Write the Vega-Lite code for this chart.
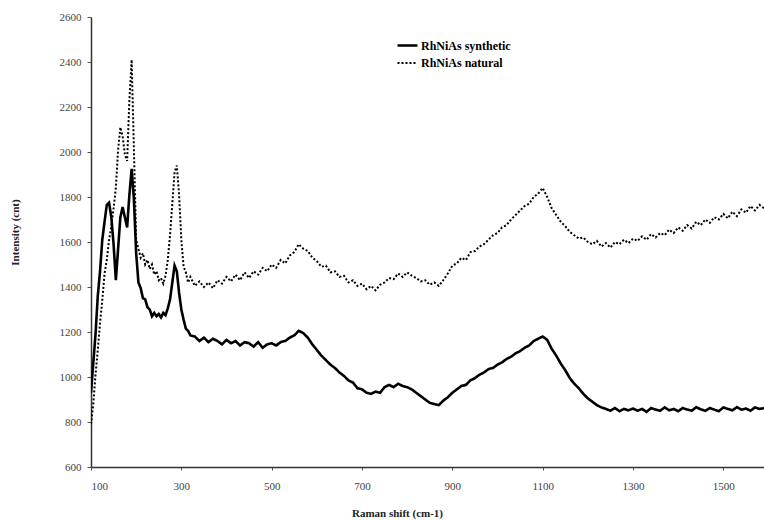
{
  "$schema": "https://vega.github.io/schema/vega-lite/v6.json",
  "width": 673,
  "height": 450,
  "autosize": "none",
  "padding": {"left": 91, "top": 17, "right": 0, "bottom": 53},
  "background": "white",
  "config": {
    "view": {"stroke": null},
    "font": "Liberation Serif"
  },
  "data": {
    "values": [
      {"x":100,"syn":930,"nat":790},{"x":105,"syn":1060,"nat":880},{"x":110,"syn":1190,"nat":1010},{"x":115,"syn":1360,"nat":1120},
      {"x":120,"syn":1470,"nat":1240},{"x":125,"syn":1610,"nat":1340},{"x":130,"syn":1690,"nat":1460},{"x":135,"syn":1765,"nat":1520},
      {"x":140,"syn":1775,"nat":1610},{"x":145,"syn":1710,"nat":1670},{"x":150,"syn":1590,"nat":1750},{"x":155,"syn":1430,"nat":1840},
      {"x":160,"syn":1570,"nat":2010},{"x":165,"syn":1710,"nat":2110},{"x":170,"syn":1755,"nat":2070},{"x":175,"syn":1710,"nat":1990},
      {"x":180,"syn":1665,"nat":1960},{"x":185,"syn":1810,"nat":2230},{"x":190,"syn":1925,"nat":2410},{"x":195,"syn":1790,"nat":2010},
      {"x":200,"syn":1550,"nat":1610},{"x":205,"syn":1420,"nat":1570},{"x":210,"syn":1395,"nat":1530},{"x":215,"syn":1350,"nat":1550},
      {"x":220,"syn":1345,"nat":1500},{"x":225,"syn":1310,"nat":1520},{"x":230,"syn":1300,"nat":1480},{"x":235,"syn":1270,"nat":1500},
      {"x":240,"syn":1285,"nat":1455},{"x":245,"syn":1270,"nat":1470},{"x":250,"syn":1280,"nat":1430},{"x":255,"syn":1265,"nat":1440},
      {"x":260,"syn":1285,"nat":1415},{"x":265,"syn":1275,"nat":1450},{"x":270,"syn":1305,"nat":1520},{"x":275,"syn":1345,"nat":1630},
      {"x":280,"syn":1420,"nat":1770},{"x":285,"syn":1495,"nat":1910},{"x":290,"syn":1470,"nat":1940},{"x":295,"syn":1375,"nat":1810},
      {"x":300,"syn":1300,"nat":1610},{"x":305,"syn":1255,"nat":1490},{"x":310,"syn":1215,"nat":1465},{"x":315,"syn":1205,"nat":1420},
      {"x":320,"syn":1185,"nat":1445},{"x":330,"syn":1180,"nat":1405},{"x":340,"syn":1160,"nat":1425},{"x":350,"syn":1175,"nat":1400},
      {"x":360,"syn":1155,"nat":1420},{"x":370,"syn":1170,"nat":1395},{"x":380,"syn":1160,"nat":1430},{"x":390,"syn":1145,"nat":1415},
      {"x":400,"syn":1165,"nat":1445},{"x":410,"syn":1150,"nat":1425},{"x":420,"syn":1160,"nat":1455},{"x":430,"syn":1140,"nat":1430},
      {"x":440,"syn":1155,"nat":1465},{"x":450,"syn":1150,"nat":1440},{"x":460,"syn":1135,"nat":1470},{"x":470,"syn":1155,"nat":1455},
      {"x":480,"syn":1130,"nat":1485},{"x":490,"syn":1145,"nat":1470},{"x":500,"syn":1150,"nat":1500},{"x":510,"syn":1140,"nat":1485},
      {"x":520,"syn":1155,"nat":1520},{"x":530,"syn":1160,"nat":1505},{"x":540,"syn":1175,"nat":1540},{"x":550,"syn":1185,"nat":1555},
      {"x":560,"syn":1205,"nat":1590},{"x":570,"syn":1195,"nat":1570},{"x":580,"syn":1175,"nat":1560},{"x":590,"syn":1145,"nat":1530},
      {"x":600,"syn":1120,"nat":1515},{"x":610,"syn":1095,"nat":1490},{"x":620,"syn":1075,"nat":1495},{"x":630,"syn":1055,"nat":1465},
      {"x":640,"syn":1040,"nat":1470},{"x":650,"syn":1020,"nat":1445},{"x":660,"syn":1005,"nat":1450},{"x":670,"syn":985,"nat":1420},
      {"x":680,"syn":975,"nat":1430},{"x":690,"syn":950,"nat":1405},{"x":700,"syn":945,"nat":1415},{"x":710,"syn":930,"nat":1390},
      {"x":720,"syn":925,"nat":1405},{"x":730,"syn":935,"nat":1385},{"x":740,"syn":930,"nat":1410},{"x":750,"syn":955,"nat":1420},
      {"x":760,"syn":965,"nat":1440},{"x":770,"syn":955,"nat":1435},{"x":780,"syn":970,"nat":1460},{"x":790,"syn":960,"nat":1445},
      {"x":800,"syn":955,"nat":1465},{"x":810,"syn":945,"nat":1450},{"x":820,"syn":930,"nat":1440},{"x":830,"syn":915,"nat":1425},
      {"x":840,"syn":900,"nat":1430},{"x":850,"syn":885,"nat":1410},{"x":860,"syn":880,"nat":1420},{"x":870,"syn":875,"nat":1405},
      {"x":880,"syn":895,"nat":1430},{"x":890,"syn":910,"nat":1460},{"x":900,"syn":930,"nat":1495},{"x":910,"syn":945,"nat":1505},
      {"x":920,"syn":960,"nat":1530},{"x":930,"syn":965,"nat":1520},{"x":940,"syn":985,"nat":1555},{"x":950,"syn":995,"nat":1560},
      {"x":960,"syn":1010,"nat":1580},{"x":970,"syn":1020,"nat":1590},{"x":980,"syn":1035,"nat":1610},{"x":990,"syn":1040,"nat":1630},
      {"x":1000,"syn":1055,"nat":1640},{"x":1010,"syn":1065,"nat":1665},{"x":1020,"syn":1080,"nat":1675},{"x":1030,"syn":1090,"nat":1700},
      {"x":1040,"syn":1105,"nat":1720},{"x":1050,"syn":1115,"nat":1740},{"x":1060,"syn":1130,"nat":1760},{"x":1070,"syn":1140,"nat":1770},
      {"x":1080,"syn":1160,"nat":1800},{"x":1090,"syn":1170,"nat":1815},{"x":1100,"syn":1180,"nat":1840},{"x":1110,"syn":1165,"nat":1800},
      {"x":1120,"syn":1125,"nat":1750},{"x":1130,"syn":1095,"nat":1720},{"x":1140,"syn":1060,"nat":1690},{"x":1150,"syn":1030,"nat":1670},
      {"x":1160,"syn":995,"nat":1645},{"x":1170,"syn":970,"nat":1630},{"x":1180,"syn":950,"nat":1615},{"x":1190,"syn":925,"nat":1620},
      {"x":1200,"syn":905,"nat":1600},{"x":1210,"syn":890,"nat":1590},{"x":1220,"syn":875,"nat":1605},{"x":1230,"syn":865,"nat":1580},
      {"x":1240,"syn":858,"nat":1595},{"x":1250,"syn":850,"nat":1575},{"x":1260,"syn":862,"nat":1600},{"x":1270,"syn":848,"nat":1590},
      {"x":1280,"syn":858,"nat":1610},{"x":1290,"syn":852,"nat":1595},{"x":1300,"syn":860,"nat":1615},{"x":1310,"syn":850,"nat":1605},
      {"x":1320,"syn":858,"nat":1625},{"x":1330,"syn":845,"nat":1610},{"x":1340,"syn":862,"nat":1635},{"x":1350,"syn":855,"nat":1620},
      {"x":1360,"syn":850,"nat":1640},{"x":1370,"syn":865,"nat":1630},{"x":1380,"syn":852,"nat":1655},{"x":1390,"syn":858,"nat":1640},
      {"x":1400,"syn":848,"nat":1665},{"x":1410,"syn":862,"nat":1650},{"x":1420,"syn":855,"nat":1675},{"x":1430,"syn":850,"nat":1660},
      {"x":1440,"syn":866,"nat":1690},{"x":1450,"syn":856,"nat":1675},{"x":1460,"syn":850,"nat":1700},{"x":1470,"syn":862,"nat":1685},
      {"x":1480,"syn":855,"nat":1710},{"x":1490,"syn":848,"nat":1700},{"x":1500,"syn":865,"nat":1725},{"x":1510,"syn":858,"nat":1705},
      {"x":1520,"syn":852,"nat":1735},{"x":1530,"syn":866,"nat":1715},{"x":1540,"syn":855,"nat":1745},{"x":1550,"syn":860,"nat":1730},
      {"x":1560,"syn":850,"nat":1760},{"x":1570,"syn":865,"nat":1740},{"x":1580,"syn":858,"nat":1765},{"x":1590,"syn":862,"nat":1750}
    ]
  },
  "transform": [{"fold": ["syn", "nat"], "as": ["series", "value"]}],
  "mark": {"type": "line", "color": "black", "clip": true},
  "encoding": {
    "x": {
      "field": "x", "type": "quantitative",
      "scale": {"domain": [100, 1590], "nice": false, "zero": false},
      "axis": {
        "values": [100, 300, 500, 700, 900, 1100, 1300, 1500],
        "format": "d",
        "grid": false,
        "domainColor": "#333", "domainWidth": 1.5,
        "tickColor": "#555", "tickSize": 3,
        "labelFont": "Liberation Serif", "labelFontSize": 11, "labelColor": "#444",
        "labelPadding": 10,
        "title": "Raman shift (cm-1)",
        "titleFont": "Liberation Serif", "titleFontSize": 11, "titleFontWeight": "bold", "titleColor": "#222",
        "titleX": 306, "titleY": 46, "titleAlign": "center", "titleBaseline": "middle"
      }
    },
    "y": {
      "field": "value", "type": "quantitative",
      "scale": {"domain": [600, 2600], "nice": false, "zero": false},
      "axis": {
        "values": [600, 800, 1000, 1200, 1400, 1600, 1800, 2000, 2200, 2400, 2600],
        "format": "d",
        "grid": false,
        "domainColor": "#333", "domainWidth": 1.5,
        "tickColor": "#555", "tickSize": 4,
        "labelFont": "Liberation Serif", "labelFontSize": 11, "labelColor": "#444",
        "labelPadding": 6,
        "title": "Intensity (cnt)",
        "titleFont": "Liberation Serif", "titleFontSize": 11, "titleFontWeight": "bold", "titleColor": "#222",
        "titleX": -76, "titleY": 215, "titleAngle": -90, "titleAlign": "center", "titleBaseline": "middle"
      }
    },
    "detail": {"field": "series"},
    "strokeWidth": {
      "field": "series", "type": "nominal",
      "scale": {"domain": ["syn", "nat"], "range": [2.6, 2]},
      "legend": null
    },
    "strokeDash": {
      "field": "series", "type": "nominal",
      "scale": {"domain": ["syn", "nat"], "range": [[1, 0], [2, 2]]},
      "legend": {
        "title": null,
        "orient": "none", "legendX": 305, "legendY": 17,
        "symbolType": "stroke", "symbolSize": 400, "symbolStrokeWidth": 2, "symbolStrokeColor": "black",
        "labelFont": "Liberation Serif", "labelFontSize": 12, "labelFontWeight": "bold", "labelColor": "black",
        "labelOffset": 2, "rowPadding": 0,
        "labelExpr": "datum.label == 'syn' ? 'RhNiAs synthetic' : 'RhNiAs natural'"
      }
    }
  }
}
